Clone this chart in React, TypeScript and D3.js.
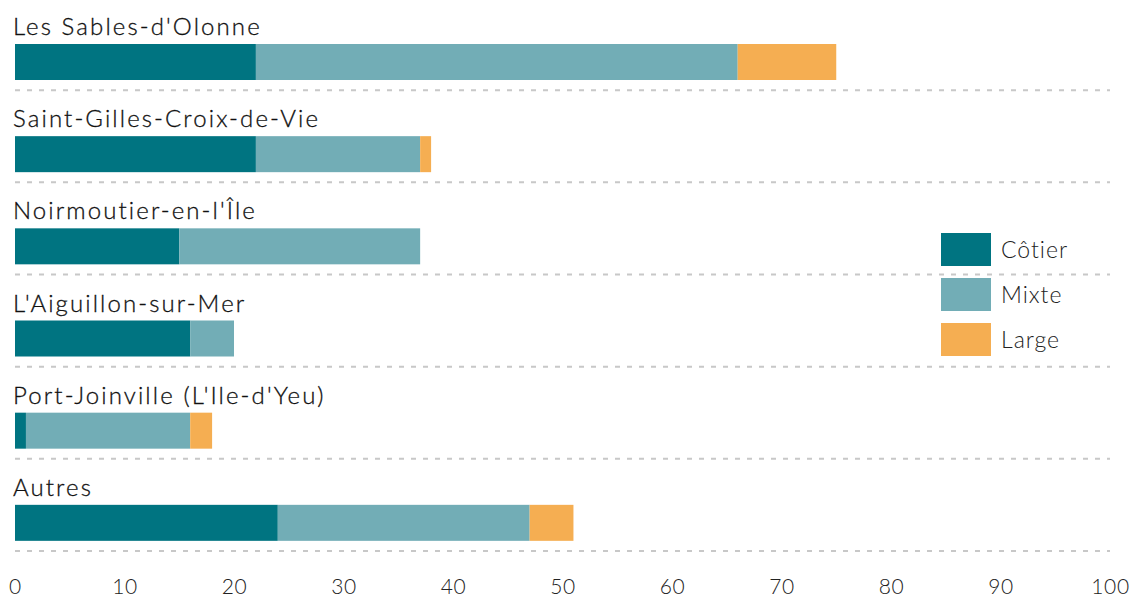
import * as d3 from 'd3';
import { useEffect, useRef } from "react";

const ports = ["Les Sables-d'Olonne", "Saint-Gilles-Croix-de-Vie", "Noirmoutier-en-l'Île", "L'Aiguillon-sur-Mer", "Port-Joinville (L'Ile-d'Yeu)", "Autres"];
const cotier = [22, 22, 15, 16, 1, 24];
const mixte = [44, 15, 22, 4, 15, 23];
const large = [9, 1, 0, 0, 2, 4];
const seriesNames = ["Côtier", "Mixte", "Large"];
const colors = ["#007481", "#72adb6", "#f5ae52"];
const xTicks = [0, 10, 20, 30, 40, 50, 60, 70, 80, 90, 100];

const W = 1132, H = 601;
const FONT = "Lato, sans-serif";

const App = () => {
    const svgRef = useRef<SVGSVGElement>(null);

    useEffect(() => {
        const svg = d3.select(svgRef.current)
            .attr('width', W)
            .attr('height', H)
            .style('font-family', FONT)
            .style('font-weight', 300);

        svg.selectAll('*').remove();

        const table = ports.map((p, i) => ({ port: p, Côtier: cotier[i], Mixte: mixte[i], Large: large[i] }));
        const stack = d3.stack<any>().keys(seriesNames)(table);

        const x = d3.scaleLinear().domain([0, 100]).range([15, 1110]);
        // each row: label band, then bar, then dotted separator
        const row = d3.scaleBand().domain(ports).range([-2, 551]).paddingInner(0).paddingOuter(0);

        const rows = svg.append('g');
        ports.forEach(p => {
            const y0 = row(p)!;
            rows.append('text')
                .attr('x', 13)
                .attr('y', y0 + 37)
                .attr('font-size', 24)
                .attr('letter-spacing', 2.1)
                .attr('fill', '#111')
                .style('font-weight', 300)
                .style('stroke', '#111')
                .style('stroke-width', 0.3)
                .text(p);
            rows.append('line')
                .attr('x1', 15).attr('x2', 1110)
                .attr('y1', y0 + row.bandwidth()).attr('y2', y0 + row.bandwidth())
                .attr('stroke', '#c8c8c8')
                .attr('stroke-width', 2)
                .attr('stroke-dasharray', '5,7');
        });

        stack.forEach((s, k) => {
            svg.append('g')
                .selectAll('rect')
                .data(s)
                .enter()
                .append('rect')
                .attr('x', d => x(d[0]))
                .attr('width', d => x(d[1]) - x(d[0]))
                .attr('y', d => row(d.data.port)! + 46)
                .attr('height', 36)
                .attr('fill', colors[k]);
        });

        const xAxis = d3.axisBottom(x).tickValues(xTicks).tickSize(0).tickPadding(0);
        const ax = svg.append('g')
            .attr('transform', 'translate(0,579)')
            .call(xAxis);
        ax.select('.domain').remove();
        ax.selectAll('text')
            .attr('font-size', 21)
            .attr('letter-spacing', 0.6)
            .attr('fill', '#222')
            .style('font-family', FONT)
            .style('font-weight', 300);

        const legend = svg.append('g').attr('transform', 'translate(941,233)');
        seriesNames.forEach((n, i) => {
            legend.append('rect')
                .attr('x', 0).attr('y', i * 45)
                .attr('width', 50).attr('height', 33)
                .attr('fill', colors[i]);
            legend.append('text')
                .attr('x', 60).attr('y', i * 45 + 25)
                .attr('font-size', 23)
                .attr('letter-spacing', 1)
                .attr('fill', '#222')
                .text(n);
        });
    }, []);

    return (
        <div>
            <svg ref={svgRef} style={{ display: 'block', position: 'absolute', left: 0, top: 0 }} />
        </div>
    );
};

export default App;
